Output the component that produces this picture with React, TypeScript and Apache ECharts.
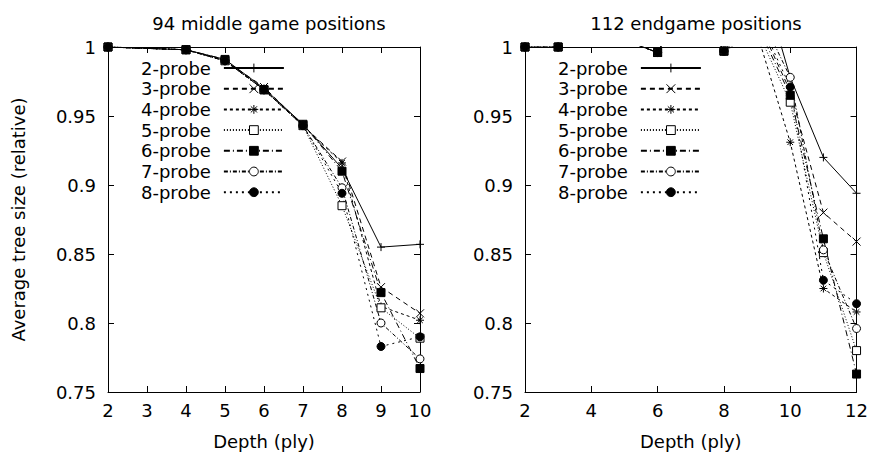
import React, { useEffect, useRef } from 'react';
import * as echarts from 'echarts';

const FONT = 'DejaVu Sans';

const probeNames = ['2-probe', '3-probe', '4-probe', '5-probe', '6-probe', '7-probe', '8-probe'];

// 94 middle game positions
const midDepths = [2, 4, 5, 6, 7, 8, 9, 10];
const mid2 = [1, 0.998, 0.991, 0.970, 0.944, 0.912, 0.855, 0.857];
const mid3 = [1, 0.998, 0.990, 0.971, 0.943, 0.917, 0.826, 0.807];
const mid4 = [1, 0.998, 0.990, 0.969, 0.943, 0.916, 0.812, 0.802];
const mid5 = [1, 0.998, 0.990, 0.969, 0.943, 0.885, 0.811, 0.789];
const mid6 = [1, 0.998, 0.991, 0.969, 0.944, 0.910, 0.822, 0.767];
const mid7 = [1, 0.998, 0.990, 0.969, 0.943, 0.898, 0.800, 0.774];
const mid8 = [1, 0.998, 0.990, 0.969, 0.943, 0.894, 0.783, 0.790];

// 112 endgame positions
const endDepths = [2, 3, 4, 5, 6, 7, 8, 9, 10, 11, 12];
const end2 = [1, 1, 1.01, 1.005, 0.996, 1.04, 0.997, 1.061, 0.978, 0.920, 0.894];
const end3 = [1, 1, 1.01, 1.005, 0.996, 1.04, 0.997, 1.020, 0.968, 0.880, 0.859];
const end4 = [1, 1, 1.01, 1.005, 0.996, 1.04, 0.997, 1.010, 0.931, 0.825, 0.808];
const end5 = [1, 1, 1.01, 1.005, 0.996, 1.04, 0.997, 1.012, 0.960, 0.851, 0.780];
const end6 = [1, 1, 1.01, 1.005, 0.996, 1.04, 0.997, 1.016, 0.965, 0.861, 0.763];
const end7 = [1, 1, 1.01, 1.005, 0.996, 1.04, 0.997, 1.028, 0.978, 0.853, 0.796];
const end8 = [1, 1, 1.01, 1.005, 0.996, 1.04, 0.997, 1.023, 0.971, 0.831, 0.814];

const midSeries = [mid2, mid3, mid4, mid5, mid6, mid7, mid8];
const endSeries = [end2, end3, end4, end5, end6, end7, end8];

const midXTicks = { min: 2, max: 10, interval: 1 };
const endXTicks = { min: 2, max: 12, interval: 2 };
const yTicks = { min: 0.75, max: 1, interval: 0.05 };

const symbols = [
  'path://M5,0L5,10M0,5L10,5',
  'path://M0,0L10,10M0,10L10,0',
  'path://M5,0L5,10M0,5L10,5M1.5,1.5L8.5,8.5M1.5,8.5L8.5,1.5',
  'rect',
  'rect',
  'circle',
  'circle',
];
const fills = ['#000', '#000', '#000', '#fff', '#000', '#fff', '#000'];
const dashes: any[] = ['solid', [5, 4], [3, 3], [1, 2], [6, 3, 1, 3], [4, 2, 1, 2], [2, 4]];

export default function App() {
  const ref = useRef<HTMLDivElement>(null);
  useEffect(() => {
    if (!ref.current) return;
    const chart = echarts.init(ref.current, undefined, { renderer: 'svg' });
    const txt = { fontFamily: FONT, fontSize: 18, color: '#000' };
    const axisBase = (extra: any) => ({
      type: 'value',
      axisLine: { show: true, lineStyle: { color: '#000', width: 1 } },
      axisTick: { show: true, inside: true, length: 6, lineStyle: { color: '#000' } },
      splitLine: { show: false },
      ...extra,
    });
    const mkSeries = (vals: number[][], depths: number[], ax: number) =>
      vals.map((v, i) => ({
        name: probeNames[i],
        type: 'line',
        xAxisIndex: ax,
        yAxisIndex: ax,
        data: depths.map((d, j) => [d, v[j]]),
        symbol: symbols[i],
        symbolSize: 8,
        clip: true,
        lineStyle: { color: '#000', width: 1, type: dashes[i] },
        itemStyle: { color: fills[i], borderColor: '#000', borderWidth: 1 },
        emphasis: { disabled: true },
      }));
    const legendBase = (left: number) => ({
      left,
      top: 54,
      orient: 'vertical',
      align: 'right',
      itemWidth: 60,
      itemHeight: 11,
      itemGap: 2.7,
      selectedMode: false,
      data: probeNames,
      itemStyle: { borderWidth: 1 },
      textStyle: { ...txt, padding: [0, 8, 0, 0] },
    });
    chart.setOption({
      animation: false,
      backgroundColor: '#fff',
      title: [
        { text: '94 middle game positions', left: 264, top: 9, textAlign: 'center', textStyle: { ...txt, fontWeight: 'normal' } },
        { text: '112 endgame positions', left: 691, top: 9, textAlign: 'center', textStyle: { ...txt, fontWeight: 'normal' } },
      ],
      legend: [legendBase(136), legendBase(553)],
      grid: [
        { left: 108, width: 312, top: 47, height: 345 },
        { left: 525, width: 332, top: 47, height: 345 },
      ],
      xAxis: [
        axisBase({ gridIndex: 0, position: 'bottom', ...midXTicks, axisLabel: { ...txt, margin: 9 }, name: 'Depth (ply)', nameLocation: 'middle', nameGap: 40, nameTextStyle: txt }),
        axisBase({ gridIndex: 0, position: 'top', ...midXTicks, axisLabel: { show: false } }),
        axisBase({ gridIndex: 1, position: 'bottom', ...endXTicks, axisLabel: { ...txt, margin: 9 }, name: 'Depth (ply)', nameLocation: 'middle', nameGap: 40, nameTextStyle: txt }),
        axisBase({ gridIndex: 1, position: 'top', ...endXTicks, axisLabel: { show: false } }),
      ],
      yAxis: [
        axisBase({ gridIndex: 0, position: 'left', ...yTicks, axisLabel: { ...txt, margin: 12 }, name: 'Average tree size (relative)', nameLocation: 'middle', nameRotate: 90, nameGap: 81, nameTextStyle: txt }),
        axisBase({ gridIndex: 0, position: 'right', ...yTicks, axisLabel: { show: false } }),
        axisBase({ gridIndex: 1, position: 'left', ...yTicks, axisLabel: { ...txt, margin: 12 } }),
        axisBase({ gridIndex: 1, position: 'right', ...yTicks, axisLabel: { show: false } }),
      ],
      series: [...mkSeries(midSeries, midDepths, 0), ...mkSeries(endSeries, endDepths, 2)],
    });
    return () => chart.dispose();
  }, []);
  return <div ref={ref} style={{ width: 871, height: 459, position: 'absolute', left: 0, top: 0 }} />;
}
